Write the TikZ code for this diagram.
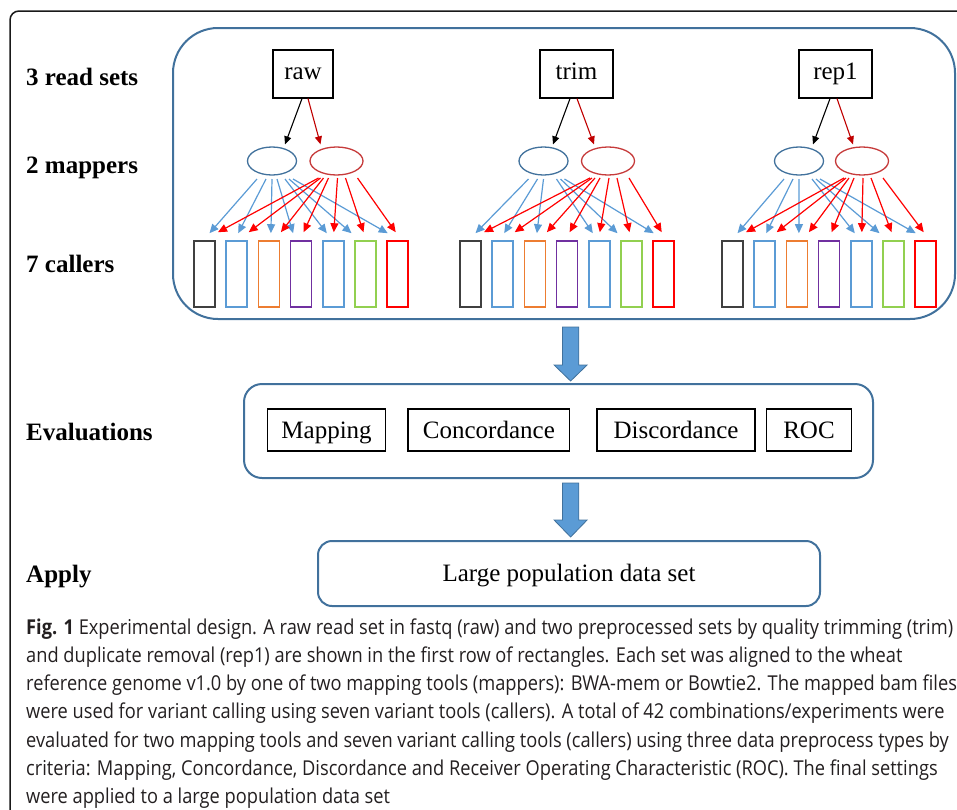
\documentclass[tikz,border=0pt]{standalone}
\usepackage{fontspec}
\setmainfont{Liberation Serif}
\newfontfamily\capfont[FakeStretch=0.89]{Open Sans}
\usetikzlibrary{calc,arrows.meta,shapes.geometric}

\definecolor{boxblue}{HTML}{41719C}
\definecolor{skyblue}{HTML}{5B9BD5}
\definecolor{mapred}{HTML}{C63A3A}
\definecolor{darkred}{HTML}{C00000}
\definecolor{brightred}{HTML}{FF0000}
\definecolor{callorange}{HTML}{ED7D31}
\definecolor{callpurple}{HTML}{7030A0}
\definecolor{callgreen}{HTML}{92D050}
\definecolor{callgrey}{HTML}{404040}
\definecolor{captext}{HTML}{231F20}

\tikzset{
  rowlabel/.style={anchor=base west, inner sep=0, font=\fontsize{25}{30}\selectfont\bfseries},
  readbox/.style={draw=black, line width=1.2, minimum height=48, inner sep=0,
    text height=16, text depth=6, font=\fontsize{25}{30}\selectfont},
  mapper/.style={ellipse, line width=1.3, minimum height=28, inner sep=0},
  callerbox/.style={line width=1.6, minimum width=21, minimum height=66, inner sep=0},
  fanblue/.style={skyblue, line width=1.2, -{Triangle[length=9pt,width=8pt]}},
  fanred/.style={brightred, line width=1.2, -{Triangle[length=9pt,width=8pt]}},
  pickblack/.style={black, line width=1.1, -{Triangle[length=8pt,width=7pt]}},
  pickred/.style={darkred, line width=1.1, -{Triangle[length=8pt,width=7pt]}},
  panel/.style={draw=boxblue, line width=2, inner sep=0},
  critbox/.style={draw=black, line width=1.2, minimum height=42, inner sep=0,
    text height=17, text depth=1, font=\fontsize{25}{30}\selectfont},
  blockarrow/.style={fill=skyblue, draw=boxblue, line width=0.8},
  capline/.style={anchor=base west, inner sep=0, text=captext,
    font=\capfont\fontsize{20.5}{24}\selectfont},
}

\begin{document}
\begin{tikzpicture}[x=1pt,y=-1pt]
\useasboundingbox (0,0) rectangle (957,809);
\clip (0,0) rectangle (957,809);

% outer frame of the figure
\draw[line width=1.5, black!90, rounded corners=9] (10,840) -- (10,11) -- (990,11);

% row labels
\node[rowlabel] (lreads) at (26,85) {3 read sets};
\node[rowlabel] (lmap) at (26,173) {2 mappers};
\node[rowlabel] (lcall) at (26,272) {7 callers};
\node[rowlabel] (leval) at (26,440) {Evaluations};
\node[rowlabel] (lapply) at (26,582) {Apply};

% panels
\node[panel, rounded corners=45, minimum width=782, minimum height=291] (sets) at (564,173.5) {};
\node[panel, rounded corners=18, minimum width=629, minimum height=94] (evals) at (558.5,431) {};
\node[panel, rounded corners=14, minimum width=502, minimum height=65,
  text height=17, text depth=1, font=\fontsize{25}{30}\selectfont] (apply) at (569,573.5) {Large population data set};

% read sets
\node[readbox, minimum width=60] (raw) at (303,74) {raw};
\node[readbox, minimum width=73] (trim) at (576.5,74) {trim};
\node[readbox, minimum width=73] (rep) at (835.5,74) {rep1};

% mappers
\node[mapper, draw=boxblue, minimum width=49] (raw-b) at (272,161) {};
\node[mapper, draw=mapred, minimum width=53] (raw-r) at (336.5,161) {};
\node[mapper, draw=boxblue, minimum width=49] (trim-b) at (543.5,161) {};
\node[mapper, draw=mapred, minimum width=53] (trim-r) at (608,161) {};
\node[mapper, draw=boxblue, minimum width=49] (rep-b) at (799,161) {};
\node[mapper, draw=mapred, minimum width=53] (rep-r) at (862,161) {};

% callers
\foreach \g/\x in {raw/204.5, trim/470.5, rep/732.5}{
  \foreach \c [count=\k from 0] in {callgrey,skyblue,callorange,callpurple,skyblue,callgreen,brightred}
    \node[callerbox, draw=\c] (\g-c\k) at ({\x+\k*32.2},274) {};
}

% read set -> mapper
\draw[pickblack] ($(raw.south)+(-1,0)$) -- ($(raw-b.north)+(13,-2)$);
\draw[pickred] ($(raw.south)+(5,0)$) -- ($(raw-r.north)+(-16,-2)$);
\draw[pickblack] ($(trim.south)+(-6.5,0)$) -- ($(trim-b.north)+(9.5,-2)$);
\draw[pickred] ($(trim.south)+(0.5,0)$) -- ($(trim-r.north)+(-14,-2)$);
\draw[pickblack] ($(rep.south)+(-5.5,0)$) -- ($(rep-b.north)+(14,-2)$);
\draw[pickred] ($(rep.south)+(1.5,0)$) -- ($(rep-r.north)+(-9,-2)$);

% mapper -> callers
\draw[fanblue] ($(raw-b.center)+(5,18)$) -- ($(raw-c3.north)+(-8,-7)$);
\foreach \g in {raw,trim,rep}{
  \foreach \k/\s/\t in {0/-15/5, 1/-6/1.5, 2/0/2, 4/13/-6.5, 5/17/-14, 6/21/-10}
    \draw[fanblue] ($(\g-b.center)+(\s,18)$) -- ($(\g-c\k.north)+(\t,-7)$);
}
\foreach \g in {raw,trim,rep}{
  \foreach \k/\s/\t in {0/-18/13.5, 1/-16/12, 2/-13/12, 3/-8/2.5, 4/1/0.5, 5/9/-2, 6/21/-2}
    \draw[fanred] ($(\g-r.center)+(\s,17)$) -- ($(\g-c\k.north)+(\t,-8)$);
}

% evaluation criteria
\node[critbox, minimum width=118.3] (mapping) at (326.6,430) {Mapping};
\node[critbox, minimum width=161.7] (conc) at (488.9,430) {Concordance};
\node[critbox, minimum width=158] (disc) at (676,430) {Discordance};
\node[critbox, minimum width=84.8] (roc) at (809,430) {ROC};

% block arrows between stages
\coordinate (a1) at (570.6,327);
\path[blockarrow] (a1) ++(-8.2,0) -- ++(16.4,0) -- ++(0,38) -- ++(8.3,0)
  -- ++(-16.5,16) -- ++(-16.5,-16) -- ++(8.3,0) -- cycle;
\coordinate (a2) at (570.6,483);
\path[blockarrow] (a2) ++(-8.2,0) -- ++(16.4,0) -- ++(0,37) -- ++(8.3,0)
  -- ++(-16.5,17) -- ++(-16.5,-17) -- ++(8.3,0) -- cycle;

% caption
\node[capline] (cap1) at (26,634) {\textbf{Fig. 1} Experimental design. A raw read set in fastq (raw) and two preprocessed sets by quality trimming (trim)};
\node[capline] (cap2) at (26,662.3) {and duplicate removal (rep1) are shown in the first row of rectangles. Each set was aligned to the wheat};
\node[capline] (cap3) at (26,690.6) {reference genome v1.0 by one of two mapping tools (mappers): BWA-mem or Bowtie2. The mapped bam files};
\node[capline] (cap4) at (26,718.9) {were used for variant calling using seven variant tools (callers). A total of 42 combinations/experiments were};
\node[capline] (cap5) at (26,747.2) {evaluated for two mapping tools and seven variant calling tools (callers) using three data preprocess types by};
\node[capline] (cap6) at (26,775.5) {criteria: Mapping, Concordance, Discordance and Receiver Operating Characteristic (ROC). The final settings};
\node[capline] (cap7) at (26,803.8) {were applied to a large population data set};
\end{tikzpicture}
\end{document}
